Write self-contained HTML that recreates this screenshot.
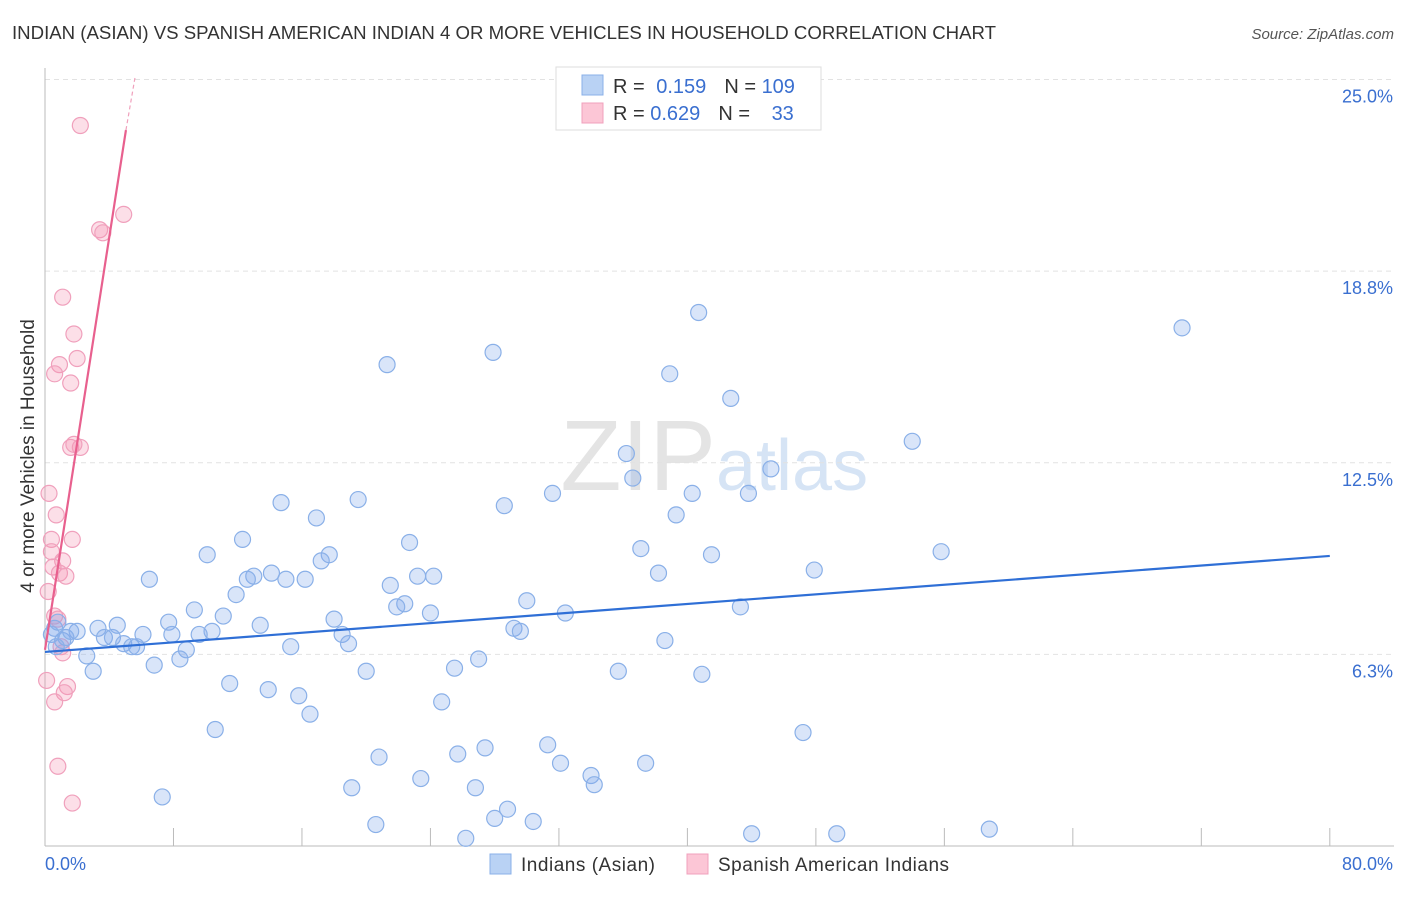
<!DOCTYPE html>
<html><head><meta charset="utf-8"><style>
body{margin:0;background:#fff;font-family:"Liberation Sans",sans-serif;}
svg text{font-family:"Liberation Sans",sans-serif;}
</style></head><body>
<svg id="c" width="1406" height="892" xmlns="http://www.w3.org/2000/svg">
<text x="12" y="39" font-size="18" fill="#333" textLength="984" lengthAdjust="spacingAndGlyphs">INDIAN (ASIAN) VS SPANISH AMERICAN INDIAN 4 OR MORE VEHICLES IN HOUSEHOLD CORRELATION CHART</text>
<text x="1394" y="39" font-size="15" fill="#555" font-style="italic" text-anchor="end">Source: ZipAtlas.com</text>
<text x="716" y="490" font-size="100" fill="#e4e4e4" text-anchor="end" font-family="Liberation Serif">ZIP</text>
<text x="716" y="490" font-size="72" fill="#d6e4f5">atlas</text>
<text transform="translate(34,456) rotate(-90)" font-size="19" fill="#333" text-anchor="middle">4 or more Vehicles in Household</text>
<g id="grid"></g><g id="pts"></g><g id="lines"></g>
<g>
<rect x="556" y="67" width="265" height="63" fill="#fff" stroke="#ddd"/>
<rect x="582" y="75" width="21" height="20" fill="#b9d2f4" stroke="#8ab0e8"/>
<rect x="582" y="103" width="21" height="20" fill="#fcc6d6" stroke="#f0a0bc"/>
<text x="613" y="93" font-size="20" fill="#333">R = <tspan fill="#3a6fd0" dx="6">0.159</tspan><tspan dx="18" fill="#333">N = </tspan><tspan fill="#3a6fd0">109</tspan></text>
<text x="613" y="120" font-size="20" fill="#333">R = <tspan fill="#3a6fd0">0.629</tspan><tspan dx="18" fill="#333">N = </tspan><tspan fill="#3a6fd0" dx="16">33</tspan></text>
</g>
<g>
<rect x="490" y="854" width="21" height="20" fill="#b9d2f4" stroke="#8ab0e8"/>
<text x="521" y="871" font-size="19" fill="#333" textLength="134">Indians (Asian)</text>
<rect x="687" y="854" width="21" height="20" fill="#fcc6d6" stroke="#f0a0bc"/>
<text x="718" y="871" font-size="19" fill="#333" textLength="231">Spanish American Indians</text>
</g>
</svg>
<script>
const yTicks=[6.25,12.5,18.75,25];
const yTickLabels=["6.3%","12.5%","18.8%","25.0%"];
const xTickVals=[0,8,16,24,32,40,48,56,64,72,80];
const blueX=[40.7,70.8,27.9,21.3,38.9,42.7,54.0,36.2,45.2,36.6,31.6,40.3,43.8,19.5,14.7,28.6,39.3,16.9,12.3,22.7,37.1,55.8,10.1,41.5,17.7,17.2,47.9,14.1,13.0,23.2,24.2,38.2,6.5,12.6,15.0,16.2,21.5,11.9,22.4,30.0,21.9,9.3,43.3,24.0,32.4,11.1,18.0,7.7,4.5,13.4,3.3,2.0,10.4,29.2,29.6,6.1,7.9,9.6,18.5,3.7,4.2,1.1,18.9,38.6,4.9,5.4,5.7,15.3,8.8,2.6,27.0,6.8,8.4,25.5,3.0,20.0,35.7,40.9,11.5,13.9,15.8,24.7,16.5,10.6,47.2,31.3,27.4,25.7,20.8,32.1,37.4,34.0,23.4,34.2,19.1,26.8,7.3,28.8,28.0,30.4,20.6,58.8,44.0,49.3,26.2,0.6,0.8,0.4,1.3,1.6,0.7];
const blueY=[17.4,16.9,16.1,15.7,15.4,14.6,13.2,12.8,12.3,12.0,11.5,11.5,11.5,11.3,11.2,11.1,10.8,10.7,10.0,9.9,9.7,9.6,9.5,9.5,9.5,9.3,9.0,8.9,8.8,8.8,8.8,8.9,8.7,8.7,8.7,8.7,8.5,8.2,7.9,8.0,7.8,7.7,7.8,7.6,7.6,7.5,7.4,7.3,7.2,7.2,7.1,7.0,7.0,7.1,7.0,6.9,6.9,6.9,6.9,6.8,6.8,6.7,6.6,6.7,6.6,6.5,6.5,6.5,6.4,6.2,6.1,5.9,6.1,5.8,5.7,5.7,5.7,5.6,5.3,5.1,4.9,4.7,4.3,3.8,3.7,3.3,3.2,3.0,2.9,2.7,2.7,2.3,2.2,2.0,1.9,1.9,1.6,1.2,0.9,0.8,0.7,0.55,0.4,0.4,0.25,7.1,7.3,6.9,6.8,7.0,6.5];
const pinkX=[2.2,4.9,3.4,3.6,1.1,1.8,2.0,0.9,0.6,1.6,1.6,2.2,1.8,0.25,0.7,1.7,0.4,0.4,1.1,0.5,0.9,1.3,0.2,0.6,0.8,1.0,1.1,0.1,1.4,1.2,0.6,0.8,1.7];
const pinkY=[23.5,20.6,20.1,20.0,17.9,16.7,15.9,15.7,15.4,15.1,13.0,13.0,13.1,11.5,10.8,10.0,10.0,9.6,9.3,9.1,8.9,8.8,8.3,7.5,7.4,6.5,6.3,5.4,5.2,5.0,4.7,2.6,1.4];
const blueLine=[[0,6.33],[80,9.46]];
const pinkLine=[[0,6.4],[5.04,23.35]];
const pinkDash=[[5.04,23.35],[5.6,25.05]];
const NS="http://www.w3.org/2000/svg";
const X=v=>45+v*16.06, Y=v=>846-v*30.66;
function mk(tag,attrs,parent){const e=document.createElementNS(NS,tag);for(const k in attrs)e.setAttribute(k,attrs[k]);parent.appendChild(e);return e;}
const grid=document.getElementById('grid');
yTicks.forEach((t,i)=>{
 const l=mk('line',{x1:45,x2:1394,y1:Y(t),y2:Y(t),stroke:'#e2e2e2','stroke-dasharray':'5,4'},grid);
 
 
 const tx=mk('text',{x:1393,y:Y(t)+23,'font-size':18,fill:'#3a6fd0','text-anchor':'end'},grid);
 tx.textContent=yTickLabels[i];
 
 
});
const ax=mk('line',{x1:45,x2:1394,y1:846,y2:846,stroke:'#bbb'},grid);


const ay=mk('line',{x1:45,x2:45,y1:68,y2:846,stroke:'#bbb'},grid);


xTickVals.forEach(v=>{const t=mk('line',{x1:X(v),x2:X(v),y1:828,y2:846,stroke:'#bbb'},grid);
 
 });
const xl0=mk('text',{x:45,y:870,'font-size':18,fill:'#3a6fd0'},grid);xl0.textContent='0.0%';


const xl1=mk('text',{x:1393,y:870,'font-size':18,fill:'#3a6fd0','text-anchor':'end'},grid);xl1.textContent='80.0%';


const pts=document.getElementById('pts');
pinkX.forEach((x,i)=>{const c=mk('circle',{cx:X(x),cy:Y(pinkY[i]),r:8,fill:'rgba(245,150,180,0.3)',stroke:'#f0a0bc','stroke-width':1.2},pts);
 
 });
blueX.forEach((x,i)=>{const c=mk('circle',{cx:X(x),cy:Y(blueY[i]),r:8,fill:'rgba(130,170,235,0.3)',stroke:'#8ab0e8','stroke-width':1.2},pts);
 
 });
const lines=document.getElementById('lines');
const bl=mk('line',{x1:X(blueLine[0][0]),y1:Y(blueLine[0][1]),x2:X(blueLine[1][0]),y2:Y(blueLine[1][1]),stroke:'#2f6fd6','stroke-width':2.2},lines);


const pl=mk('line',{x1:X(pinkLine[0][0]),y1:Y(pinkLine[0][1]),x2:X(pinkLine[1][0]),y2:Y(pinkLine[1][1]),stroke:'#e8608e','stroke-width':2.2},lines);


const pd=mk('line',{x1:X(pinkDash[0][0]),y1:Y(pinkDash[0][1]),x2:X(pinkDash[1][0]),y2:Y(pinkDash[1][1]),stroke:'#f0a0bc','stroke-width':1.2,'stroke-dasharray':'4,3'},lines);


</script>
</body></html>
